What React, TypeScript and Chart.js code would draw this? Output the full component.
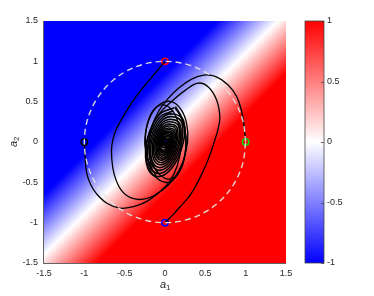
import React, { useEffect, useRef } from 'react';
import { Chart, registerables } from 'chart.js';

Chart.register(...registerables);

// ---- tick labels ----
const xTicks = [-1.5, -1, -0.5, 0, 0.5, 1, 1.5];
const yTicks = [-1.5, -1, -0.5, 0, 0.5, 1, 1.5];
const cbTicks = [-1, -0.5, 0, 0.5, 1];

// background field: values of (a1 - a2) where the field equals -1, 0, +1
const fieldDiffAt = [-0.85, -0.1, 0.65];
const fieldColors = ['#0000ff', '#ffffff', '#ff0000'];

// dashed unit circle (a1, a2)
const unitCircle: [number, number][] = [
  [1, 0], [0.966, 0.259], [0.866, 0.5], [0.707, 0.707], [0.5, 0.866], [0.259, 0.966],
  [0, 1], [-0.259, 0.966], [-0.5, 0.866], [-0.707, 0.707], [-0.866, 0.5], [-0.966, 0.259],
  [-1, 0], [-0.966, -0.259], [-0.866, -0.5], [-0.707, -0.707], [-0.5, -0.866], [-0.259, -0.966],
  [0, -1], [0.259, -0.966], [0.5, -0.866], [0.707, -0.707], [0.866, -0.5], [0.966, -0.259], [1, 0],
];

// trajectories (a1, a2)
const trajRed: [number, number][] = [
  [0, 1], [-0.1, 0.88], [-0.2, 0.76], [-0.3, 0.64], [-0.39, 0.52], [-0.48, 0.38], [-0.55, 0.26],
  [-0.62, 0.12], [-0.66, -0.05], [-0.66, -0.2], [-0.63, -0.4], [-0.54, -0.6], [-0.4, -0.7],
  [-0.22, -0.7], [-0.05, -0.61], [0.1, -0.47], [0.22, -0.25], [0.28, 0], [0.27, 0.22],
  [0.2, 0.4], [0.08, 0.5], [-0.06, 0.47], [-0.18, 0.32], [-0.24, 0.1], [-0.23, -0.15], [-0.15, -0.36],
];
const trajGreen: [number, number][] = [
  [1, 0], [0.98, 0.2], [0.95, 0.38], [0.89, 0.56], [0.78, 0.71], [0.63, 0.81], [0.48, 0.83],
  [0.33, 0.78], [0.17, 0.67], [0.04, 0.54], [-0.08, 0.38], [-0.17, 0.17], [-0.2, -0.05],
  [-0.16, -0.26], [-0.06, -0.41], [0.06, -0.46], [0.17, -0.38], [0.24, -0.2], [0.26, 0.05],
  [0.22, 0.28], [0.13, 0.44],
];
const trajBlue: [number, number][] = [
  [0, -1], [0.1, -0.9], [0.19, -0.8], [0.28, -0.7], [0.35, -0.6], [0.43, -0.45], [0.51, -0.28],
  [0.57, -0.12], [0.62, 0.03], [0.66, 0.17], [0.68, 0.31], [0.64, 0.52], [0.54, 0.68], [0.41, 0.73],
  [0.25, 0.64], [0.08, 0.5], [-0.08, 0.34], [-0.19, 0.13], [-0.24, -0.1], [-0.21, -0.3],
  [-0.1, -0.45], [0.04, -0.5], [0.16, -0.4], [0.24, -0.2], [0.26, 0.05], [0.2, 0.3], [0.12, 0.43],
];
const trajBlack: [number, number][] = [
  [-1, 0], [-0.99, -0.2], [-0.97, -0.39], [-0.92, -0.53], [-0.85, -0.64], [-0.72, -0.76],
  [-0.56, -0.82], [-0.39, -0.8], [-0.23, -0.74], [-0.08, -0.63], [0.05, -0.5], [0.15, -0.3],
  [0.2, -0.05], [0.18, 0.18], [0.1, 0.38], [-0.02, 0.46], [-0.14, 0.4], [-0.22, 0.22],
  [-0.25, -0.02], [-0.2, -0.26], [-0.11, -0.42],
];
// tight spirals near the fixed point (two interleaved sets of loops)
const innerSpiralA: [number, number][] = [
  [0.114, 0.425], [-0.07, 0.341], [-0.213, 0.057], [-0.231, -0.26], [-0.114, -0.425], [0.07, -0.341], [0.213, -0.057], [0.231, 0.26],
  [0.093, 0.348], [-0.057, 0.279], [-0.174, 0.047], [-0.189, -0.213], [-0.093, -0.348], [0.057, -0.279], [0.174, -0.047], [0.189, 0.213],
  [0.075, 0.28], [-0.046, 0.225], [-0.14, 0.038], [-0.152, -0.171], [-0.075, -0.28], [0.046, -0.225], [0.14, -0.038], [0.152, 0.171],
  [0.06, 0.222], [-0.036, 0.178], [-0.111, 0.03], [-0.121, -0.136], [-0.06, -0.222], [0.036, -0.178], [0.111, -0.03], [0.121, 0.136],
  [0.047, 0.174], [-0.028, 0.14], [-0.087, 0.023], [-0.095, -0.106], [-0.047, -0.174], [0.028, -0.14], [0.087, -0.023], [0.095, 0.106],
  [0.036, 0.135], [-0.022, 0.109], [-0.068, 0.018], [-0.074, -0.083], [-0.036, -0.135], [0.022, -0.109], [0.068, -0.018], [0.074, 0.083],
  [0.027, 0.101], [-0.017, 0.081], [-0.051, 0.014], [-0.055, -0.062], [-0.027, -0.101], [0.017, -0.081], [0.051, -0.014], [0.055, 0.062],
  [0.019, 0.072], [-0.012, 0.058], [-0.036, 0.01], [-0.039, -0.044], [-0.019, -0.072], [0.012, -0.058], [0.036, -0.01], [0.039, 0.044],
  [0.013, 0.048], [-0.008, 0.039], [-0.024, 0.007], [-0.026, -0.03], [-0.013, -0.048], [0.008, -0.039], [0.024, -0.007], [0.026, 0.03],
  [0.008, 0.029], [-0.005, 0.023], [-0.014, 0.004], [-0.016, -0.018], [-0.008, -0.029], [0.005, -0.023], [0.01, -0.004], [0, 0],
];
const innerSpiralB: [number, number][] = [
  [0.104, 0.386], [-0.063, 0.31], [-0.193, 0.052], [-0.21, -0.236], [-0.104, -0.386], [0.063, -0.31], [0.193, -0.052], [0.21, 0.236],
  [0.084, 0.314], [-0.051, 0.252], [-0.157, 0.042], [-0.171, -0.192], [-0.084, -0.314], [0.051, -0.252], [0.157, -0.042], [0.171, 0.192],
  [0.067, 0.251], [-0.041, 0.202], [-0.126, 0.034], [-0.137, -0.154], [-0.067, -0.251], [0.041, -0.202], [0.126, -0.034], [0.137, 0.154],
  [0.053, 0.198], [-0.032, 0.159], [-0.099, 0.027], [-0.108, -0.121], [-0.053, -0.198], [0.032, -0.159], [0.099, -0.027], [0.108, 0.121],
  [0.041, 0.155], [-0.025, 0.124], [-0.077, 0.021], [-0.084, -0.095], [-0.041, -0.155], [0.025, -0.124], [0.077, -0.021], [0.084, 0.095],
  [0.031, 0.116], [-0.019, 0.093], [-0.058, 0.016], [-0.063, -0.071], [-0.031, -0.116], [0.019, -0.093], [0.058, -0.016], [0.063, 0.071],
  [0.02, 0.08], [-0.012, 0.06], [-0.03, 0.01], [-0.02, -0.03], [0, 0],
];

const startPoints: [number, number][] = [[0, 1], [1, 0], [0, -1], [-1, 0]];
const startColors = ['#ff0000', '#00dd00', '#0000ff', '#000000'];
const fixedPoint: [number, number][] = [[0, 0]];

const toXY = (p: [number, number][]) => p.map(([a, b]) => ({ x: a, y: b }));

const FONT_FAMILY = '"Liberation Sans", Arial, sans-serif';
const TICK_FONT = { family: FONT_FAMILY, size: 9 };
const TEXT = '#262626';

const heatmapPlugin = {
  id: 'heatmap',
  beforeDatasetsDraw(chart: any) {
    const { ctx, chartArea: a, scales } = chart;
    const x = scales.x, y = scales.y;
    const d0 = fieldDiffAt[0], d1 = fieldDiffAt[1], d2 = fieldDiffAt[2];
    const x0 = x.getPixelForValue(d0 / 2), y0 = y.getPixelForValue(-d0 / 2);
    const x1 = x.getPixelForValue(d2 / 2), y1 = y.getPixelForValue(-d2 / 2);
    const g = ctx.createLinearGradient(x0, y0, x1, y1);
    g.addColorStop(0, fieldColors[0]);
    g.addColorStop((d1 - d0) / (d2 - d0), fieldColors[1]);
    g.addColorStop(1, fieldColors[2]);
    ctx.save();
    ctx.fillStyle = g;
    ctx.fillRect(a.left, a.top, a.right - a.left, a.bottom - a.top);
    ctx.restore();
  },
  afterDraw(chart: any) {
    const { ctx, chartArea: a, scales } = chart;
    const cb = scales.cb;
    ctx.save();
    // axes lines (left & bottom)
    ctx.strokeStyle = 'rgba(60,60,60,0.8)';
    ctx.lineWidth = 1;
    ctx.beginPath();
    ctx.moveTo(a.left - 0.5, a.top);
    ctx.lineTo(a.left - 0.5, a.bottom + 0.5);
    ctx.lineTo(a.right, a.bottom + 0.5);
    ctx.stroke();

    // colorbar
    const top = cb.getPixelForValue(cbTicks[cbTicks.length - 1]);
    const bot = cb.getPixelForValue(cbTicks[0]);
    const bx = a.right + 19, bw = 19;
    const g = ctx.createLinearGradient(0, bot, 0, top);
    g.addColorStop(0, fieldColors[0]);
    g.addColorStop(0.5, fieldColors[1]);
    g.addColorStop(1, fieldColors[2]);
    ctx.fillStyle = g;
    ctx.fillRect(bx, top, bw, bot - top);
    ctx.strokeStyle = '#444';
    ctx.lineWidth = 0.8;
    ctx.strokeRect(bx, top, bw, bot - top);
    ctx.beginPath();
    cbTicks.forEach((v) => {
      const py = Math.round(cb.getPixelForValue(v)) + 0.5;
      ctx.moveTo(bx + bw, py);
      ctx.lineTo(bx + bw - 3, py);
    });
    ctx.stroke();
    ctx.fillStyle = TEXT;
    ctx.font = `9px ${FONT_FAMILY}`;
    ctx.textAlign = 'left';
    ctx.textBaseline = 'middle';
    cbTicks.forEach((v) => {
      ctx.fillText(String(v), bx + bw + 3, cb.getPixelForValue(v));
    });

    // axis titles
    const cx = (a.left + a.right) / 2;
    ctx.font = `italic 11px ${FONT_FAMILY}`;
    ctx.fillText('a', cx - 5, 285);
    ctx.font = `8px ${FONT_FAMILY}`;
    ctx.fillText('1', cx + 1, 288);
    ctx.translate(14, (a.top + a.bottom) / 2);
    ctx.rotate(-Math.PI / 2);
    ctx.font = `italic 11px ${FONT_FAMILY}`;
    ctx.fillText('a', -5, 0);
    ctx.font = `8px ${FONT_FAMILY}`;
    ctx.fillText('2', 1, 3);
    ctx.restore();
  },
};

const lineDs = (pts: [number, number][], extra: any = {}) => ({
  data: toXY(pts),
  showLine: true,
  borderColor: '#000',
  borderWidth: 1.5,
  pointRadius: 0,
  tension: 0.4,
  fill: false,
  ...extra,
});

const fmt = (v: any) => String(v);

export default function App() {
  const ref = useRef<HTMLCanvasElement>(null);
  useEffect(() => {
    document.body.style.margin = '0';
    const chart = new Chart(ref.current as HTMLCanvasElement, {
      type: 'scatter',
      data: {
        datasets: [
          lineDs(unitCircle, { borderColor: 'rgba(225,225,225,0.95)', borderWidth: 1.4, borderDash: [6, 4], tension: 0.35 }),
          lineDs(trajRed, { borderWidth: 1.3 }),
          lineDs(trajGreen, { borderWidth: 1.3 }),
          lineDs(trajBlue, { borderWidth: 1.3 }),
          lineDs(trajBlack, { borderWidth: 1.3 }),
          lineDs(innerSpiralA, { borderWidth: 1.6 }),
          lineDs(innerSpiralB, { borderWidth: 1.6 }),
          {
            data: toXY(startPoints),
            showLine: false,
            pointRadius: 3.2,
            pointBorderWidth: 1.5,
            pointBackgroundColor: 'rgba(0,0,0,0)',
            pointBorderColor: startColors,
          },
          {
            data: toXY(fixedPoint),
            showLine: false,
            pointRadius: 2.3,
            pointBorderWidth: 0,
            pointBackgroundColor: '#0000ff',
          },
        ] as any,
      },
      options: {
        responsive: false,
        animation: false,
        events: [],
        layout: { padding: { top: 21, left: 0, right: 0, bottom: 0 } },
        plugins: { legend: { display: false }, tooltip: { enabled: false } },
        scales: {
          x: {
            type: 'linear', position: 'bottom', min: -1.5, max: 1.5,
            afterBuildTicks: (s: any) => { s.ticks = xTicks.map((v) => ({ value: v })); },
            afterFit: (s: any) => { s.height = 33; },
            grid: { display: false, drawTicks: false },
            border: { display: false },
            ticks: { font: TICK_FONT, color: TEXT, padding: 5, maxRotation: 0, callback: fmt },
          },
          y: {
            type: 'linear', position: 'left', min: -1.5, max: 1.5,
            afterBuildTicks: (s: any) => { s.ticks = yTicks.map((v) => ({ value: v })); },
            afterFit: (s: any) => { s.width = 44; },
            grid: { display: false, drawTicks: false },
            border: { display: false },
            ticks: { font: TICK_FONT, color: TEXT, padding: 6, callback: fmt },
          },
          cb: {
            type: 'linear', position: 'right', min: -1, max: 1,
            afterBuildTicks: (s: any) => { s.ticks = cbTicks.map((v) => ({ value: v })); },
            afterFit: (s: any) => { s.width = 88; },
            grid: { display: false, drawTicks: false },
            border: { display: false },
            ticks: { display: false, padding: 0 },
          },
        },
      } as any,
      plugins: [heatmapPlugin],
    });
    return () => chart.destroy();
  }, []);
  return (
    <div style={{ width: 374, height: 296 }}>
      <canvas ref={ref} width={374} height={296} style={{ display: 'block' }} />
    </div>
  );
}
